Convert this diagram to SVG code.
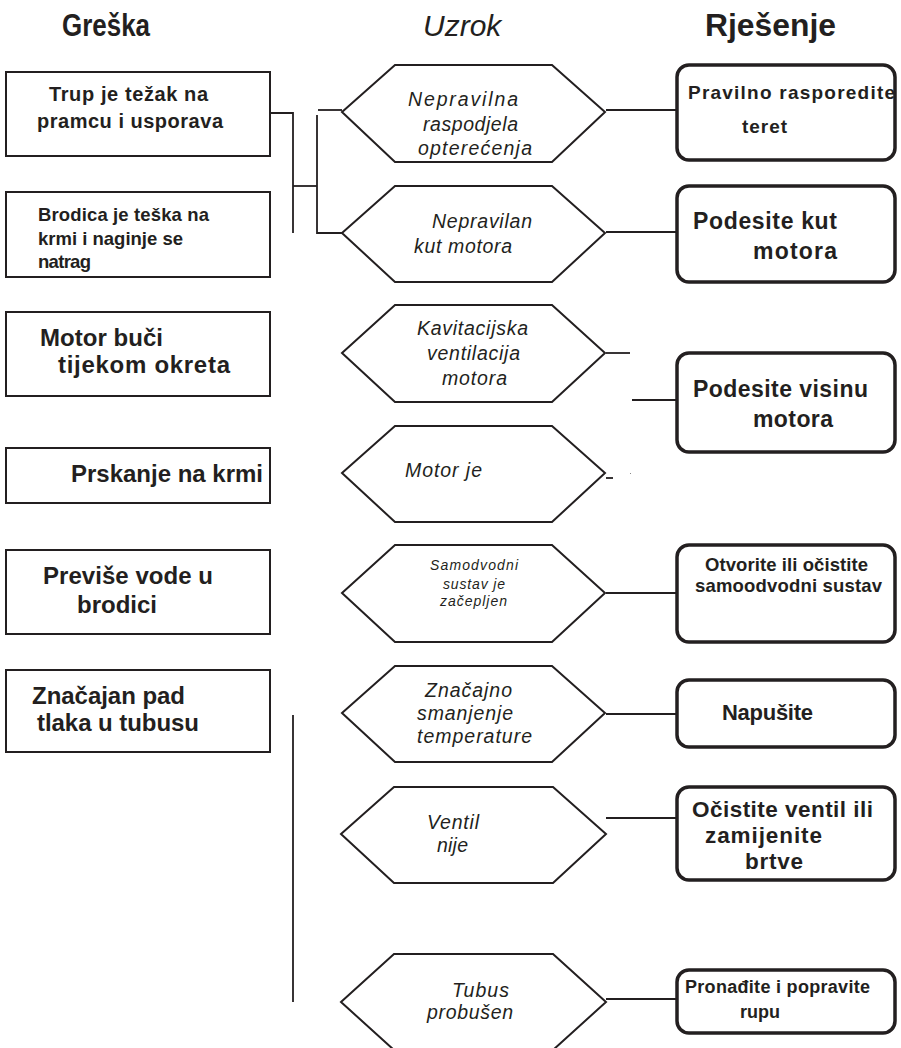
<svg xmlns="http://www.w3.org/2000/svg" width="901" height="1048" viewBox="0 0 901 1048">
<style>
.bg{fill:#fff}
.lb{fill:#fff;stroke:#231f20;stroke-width:2}
.hx{fill:#fff;stroke:#231f20;stroke-width:2;stroke-linejoin:miter}
.rb{fill:#fff;stroke:#231f20;stroke-width:3.5}
.ln{stroke:#231f20;stroke-width:1.8;fill:none}
text{font-family:"Liberation Sans",Arial,sans-serif;fill:#231f20}
.h{font-size:31px;font-weight:bold}
.hi{font-size:30px;font-style:italic}
.b{font-weight:bold}
.i{font-style:italic;font-size:19.5px}
.is{font-style:italic;font-size:14px}
</style>
<rect class="bg" x="0" y="0" width="901" height="1048"/>
<g id="headers">
<text class="h" x="62" y="36" textLength="88" lengthAdjust="spacingAndGlyphs">Greška</text>
<text class="hi" x="423" y="36">Uzrok</text>
<text class="h" x="705" y="36" textLength="131" lengthAdjust="spacingAndGlyphs">Rješenje</text>
</g>
<g id="connectors">
<polyline class="ln" points="270,113 293,113 293,233"/>
<line class="ln" x1="293" y1="186" x2="317" y2="186"/>
<polyline class="ln" points="317,115 317,233 342,233"/>
<line class="ln" x1="318" y1="110" x2="342" y2="110"/>
<line class="ln" x1="606" y1="110" x2="677" y2="110"/>
<line class="ln" x1="606" y1="232" x2="677" y2="232"/>
<line class="ln" x1="606" y1="353" x2="630" y2="353"/>
<line class="ln" x1="632" y1="400" x2="677" y2="400"/>
<line class="ln" x1="606" y1="478" x2="613" y2="478"/>
<rect x="630" y="473" width="1" height="1" fill="#888"/>
<line class="ln" x1="606" y1="593" x2="677" y2="593"/>
<line class="ln" x1="606" y1="714" x2="677" y2="714"/>
<line class="ln" x1="606" y1="818" x2="677" y2="818"/>
<line class="ln" x1="606" y1="999" x2="677" y2="999"/>
<line class="ln" x1="293" y1="715" x2="293" y2="1002"/>
</g>
<g id="greska1"><rect class="lb" x="6" y="72" width="264" height="84"/>
<text class="b" font-size="20" x="49" y="101" textLength="159">Trup je težak na</text>
<text class="b" font-size="20" x="37" y="128" textLength="186">pramcu i usporava</text></g>
<g id="greska2"><rect class="lb" x="6" y="192" width="264" height="85"/>
<text class="b" font-size="18.5" x="38" y="221" textLength="171">Brodica je teška na</text>
<text class="b" font-size="18.5" x="38" y="245" textLength="145">krmi i naginje se</text>
<text class="b" font-size="18.5" x="38" y="268" textLength="53">natrag</text></g>
<g id="greska3"><rect class="lb" x="6" y="312" width="264" height="84"/>
<text class="b" font-size="24" x="40" y="346" textLength="123">Motor buči</text>
<text class="b" font-size="24" x="58" y="373" textLength="172">tijekom okreta</text></g>
<g id="greska4"><rect class="lb" x="6" y="448" width="264" height="55"/>
<text class="b" font-size="24" x="71" y="482" textLength="192">Prskanje na krmi</text></g>
<g id="greska5"><rect class="lb" x="6" y="550" width="264" height="84"/>
<text class="b" font-size="24" x="43" y="584" textLength="170">Previše vode u</text>
<text class="b" font-size="24" x="77" y="613" textLength="80">brodici</text></g>
<g id="greska6"><rect class="lb" x="6" y="670" width="264" height="82"/>
<text class="b" font-size="24" x="32" y="704" textLength="153">Značajan pad</text>
<text class="b" font-size="24" x="37" y="731" textLength="162">tlaka u tubusu</text></g>
<g id="uzrok1"><polygon class="hx" points="342,112 395,65 552,65 605,112 552,162 395,162"/>
<text class="i" x="408" y="106" textLength="110">Nepravilna</text>
<text class="i" x="423" y="131" textLength="95">raspodjela</text>
<text class="i" x="418" y="155" textLength="114">opterećenja</text></g>
<g id="uzrok2"><polygon class="hx" points="342,233 395,186 552,186 605,233 552,282 395,282"/>
<text class="i" x="432" y="228" textLength="100">Nepravilan</text>
<text class="i" x="414" y="253" textLength="98">kut motora</text></g>
<g id="uzrok3"><polygon class="hx" points="342,353 395,305 552,305 605,353 552,402 395,402"/>
<text class="i" x="417" y="335" textLength="111">Kavitacijska</text>
<text class="i" x="427" y="360" textLength="93">ventilacija</text>
<text class="i" x="442" y="385" textLength="65">motora</text></g>
<g id="uzrok4"><polygon class="hx" points="342,473 395,426 552,426 605,473 552,522 395,522"/>
<text class="i" x="405" y="477" textLength="77">Motor je</text></g>
<g id="uzrok5"><polygon class="hx" points="342,593 395,545 552,545 605,593 552,642 395,642"/>
<text class="is" x="430" y="570" textLength="88">Samodvodni</text>
<text class="is" x="443" y="589" textLength="62">sustav je</text>
<text class="is" x="440" y="606" textLength="67">začepljen</text></g>
<g id="uzrok6"><polygon class="hx" points="342,713 395,666 552,666 605,713 552,762 395,762"/>
<text class="i" x="425" y="697" textLength="87">Značajno</text>
<text class="i" x="417" y="720" textLength="96">smanjenje</text>
<text class="i" x="417" y="743" textLength="115">temperature</text></g>
<g id="uzrok7"><polygon class="hx" points="341,834 394,787 553,787 606,834 553,883 394,883"/>
<text class="i" x="427" y="829" textLength="52">Ventil</text>
<text class="i" x="437" y="852" textLength="31">nije</text></g>
<g id="uzrok8"><polygon class="hx" points="341,1002 394,954 553,954 606,1002 553,1050 394,1050"/>
<text class="i" x="452" y="997" textLength="57">Tubus</text>
<text class="i" x="427" y="1019" textLength="86">probušen</text></g>
<g id="rjesenje1"><rect class="rb" x="677" y="65" width="218" height="95" rx="12"/>
<text class="b" font-size="19" x="688" y="99" textLength="207">Pravilno rasporedite</text>
<text class="b" font-size="19" x="742" y="133" textLength="45">teret</text></g>
<g id="rjesenje2"><rect class="rb" x="677" y="186" width="218" height="96" rx="12"/>
<text class="b" font-size="23" x="693" y="229" textLength="144">Podesite kut</text>
<text class="b" font-size="23" x="753" y="259" textLength="84">motora</text></g>
<g id="rjesenje3"><rect class="rb" x="677" y="353" width="218" height="99" rx="12"/>
<text class="b" font-size="23" x="693" y="397" textLength="175">Podesite visinu</text>
<text class="b" font-size="23" x="753" y="427" textLength="80">motora</text></g>
<g id="rjesenje4"><rect class="rb" x="677" y="545" width="218" height="97" rx="12"/>
<text class="b" font-size="18.5" x="705" y="571" textLength="163">Otvorite ili očistite</text>
<text class="b" font-size="18.5" x="695" y="592" textLength="187">samoodvodni sustav</text></g>
<g id="rjesenje5"><rect class="rb" x="677" y="680" width="218" height="67" rx="12"/>
<text class="b" font-size="22" x="722" y="720" textLength="91">Napušite</text></g>
<g id="rjesenje6"><rect class="rb" x="677" y="787" width="218" height="93" rx="12"/>
<text class="b" font-size="22.5" x="692" y="817" textLength="181">Očistite ventil ili</text>
<text class="b" font-size="22.5" x="705" y="843" textLength="117">zamijenite</text>
<text class="b" font-size="22.5" x="745" y="869" textLength="58">brtve</text></g>
<g id="rjesenje7"><rect class="rb" x="677" y="970" width="218" height="63" rx="12"/>
<text class="b" font-size="18" x="685" y="993" textLength="185">Pronađite i popravite</text>
<text class="b" font-size="18" x="740" y="1018" textLength="40">rupu</text></g>
</svg>
